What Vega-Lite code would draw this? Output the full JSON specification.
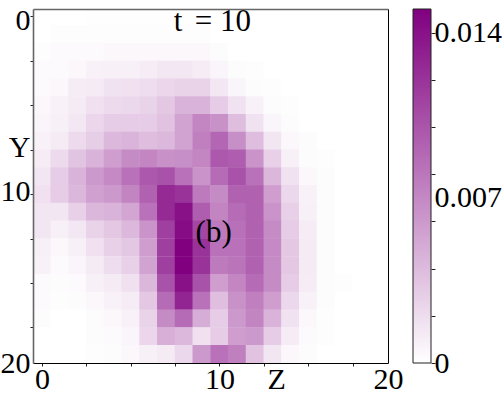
{"$schema":"https://vega.github.io/schema/vega-lite/v6.json","padding":{"left":0,"top":5,"right":0,"bottom":0},"background":"white","config":{"font":"Liberation Serif","view":{"stroke":null},"axis":{"grid":false,"title":null,"domain":false,"labelFont":"Liberation Serif","labelFontSize":30,"labelColor":"#000","tickColor":"#222","tickSize":3,"labelOverlap":false,"labelFlush":false,"labelBound":false}},"datasets":{"cells":[
{"z":0,"y":0,"v":0},{"z":1,"y":0,"v":0},{"z":2,"y":0,"v":0},{"z":3,"y":0,"v":0.00005},{"z":4,"y":0,"v":0.00005},{"z":5,"y":0,"v":0.00005},{"z":6,"y":0,"v":0.00005},{"z":7,"y":0,"v":0.00005},{"z":8,"y":0,"v":0.00005},{"z":9,"y":0,"v":0.00005},{"z":10,"y":0,"v":0.00005},{"z":11,"y":0,"v":0},{"z":12,"y":0,"v":0},{"z":13,"y":0,"v":0},{"z":14,"y":0,"v":0},{"z":15,"y":0,"v":0},{"z":16,"y":0,"v":0},{"z":17,"y":0,"v":0},{"z":18,"y":0,"v":0},{"z":19,"y":0,"v":0},
{"z":0,"y":1,"v":0},{"z":1,"y":1,"v":0.0001},{"z":2,"y":1,"v":0.0001},{"z":3,"y":1,"v":0.0001},{"z":4,"y":1,"v":0.0001},{"z":5,"y":1,"v":0.0001},{"z":6,"y":1,"v":0.0001},{"z":7,"y":1,"v":0.0001},{"z":8,"y":1,"v":0.0001},{"z":9,"y":1,"v":0.0001},{"z":10,"y":1,"v":0},{"z":11,"y":1,"v":0},{"z":12,"y":1,"v":0},{"z":13,"y":1,"v":0},{"z":14,"y":1,"v":0},{"z":15,"y":1,"v":0},{"z":16,"y":1,"v":0},{"z":17,"y":1,"v":0},{"z":18,"y":1,"v":0},{"z":19,"y":1,"v":0},
{"z":0,"y":2,"v":0.0001},{"z":1,"y":2,"v":0.0003},{"z":2,"y":2,"v":0.0003},{"z":3,"y":2,"v":0.0003},{"z":4,"y":2,"v":0.0005},{"z":5,"y":2,"v":0.0005},{"z":6,"y":2,"v":0.0005},{"z":7,"y":2,"v":0.0005},{"z":8,"y":2,"v":0.0005},{"z":9,"y":2,"v":0.0005},{"z":10,"y":2,"v":0.0002},{"z":11,"y":2,"v":0},{"z":12,"y":2,"v":0},{"z":13,"y":2,"v":0},{"z":14,"y":2,"v":0},{"z":15,"y":2,"v":0},{"z":16,"y":2,"v":0},{"z":17,"y":2,"v":0},{"z":18,"y":2,"v":0},{"z":19,"y":2,"v":0},
{"z":0,"y":3,"v":0.0003},{"z":1,"y":3,"v":0.0003},{"z":2,"y":3,"v":0.0005},{"z":3,"y":3,"v":0.0008},{"z":4,"y":3,"v":0.0009},{"z":5,"y":3,"v":0.0009},{"z":6,"y":3,"v":0.0011},{"z":7,"y":3,"v":0.0014},{"z":8,"y":3,"v":0.0014},{"z":9,"y":3,"v":0.0011},{"z":10,"y":3,"v":0.0006},{"z":11,"y":3,"v":0.0002},{"z":12,"y":3,"v":0.0001},{"z":13,"y":3,"v":0},{"z":14,"y":3,"v":0},{"z":15,"y":3,"v":0},{"z":16,"y":3,"v":0},{"z":17,"y":3,"v":0},{"z":18,"y":3,"v":0},{"z":19,"y":3,"v":0},
{"z":0,"y":4,"v":0.0003},{"z":1,"y":4,"v":0.0005},{"z":2,"y":4,"v":0.0011},{"z":3,"y":4,"v":0.0012},{"z":4,"y":4,"v":0.0017},{"z":5,"y":4,"v":0.0018},{"z":6,"y":4,"v":0.002},{"z":7,"y":4,"v":0.0024},{"z":8,"y":4,"v":0.0026},{"z":9,"y":4,"v":0.0026},{"z":10,"y":4,"v":0.0014},{"z":11,"y":4,"v":0.0006},{"z":12,"y":4,"v":0.0002},{"z":13,"y":4,"v":0.0001},{"z":14,"y":4,"v":0},{"z":15,"y":4,"v":0},{"z":16,"y":4,"v":0},{"z":17,"y":4,"v":0},{"z":18,"y":4,"v":0},{"z":19,"y":4,"v":0},
{"z":0,"y":5,"v":0.0005},{"z":1,"y":5,"v":0.0008},{"z":2,"y":5,"v":0.0012},{"z":3,"y":5,"v":0.0018},{"z":4,"y":5,"v":0.0021},{"z":5,"y":5,"v":0.0023},{"z":6,"y":5,"v":0.0026},{"z":7,"y":5,"v":0.0033},{"z":8,"y":5,"v":0.0045},{"z":9,"y":5,"v":0.0045},{"z":10,"y":5,"v":0.003},{"z":11,"y":5,"v":0.0017},{"z":12,"y":5,"v":0.0008},{"z":13,"y":5,"v":0.0002},{"z":14,"y":5,"v":0.0001},{"z":15,"y":5,"v":0},{"z":16,"y":5,"v":0},{"z":17,"y":5,"v":0},{"z":18,"y":5,"v":0},{"z":19,"y":5,"v":0},
{"z":0,"y":6,"v":0.0006},{"z":1,"y":6,"v":0.0009},{"z":2,"y":6,"v":0.0014},{"z":3,"y":6,"v":0.0024},{"z":4,"y":6,"v":0.003},{"z":5,"y":6,"v":0.003},{"z":6,"y":6,"v":0.003},{"z":7,"y":6,"v":0.0036},{"z":8,"y":6,"v":0.0054},{"z":9,"y":6,"v":0.0071},{"z":10,"y":6,"v":0.0065},{"z":11,"y":6,"v":0.0039},{"z":12,"y":6,"v":0.0017},{"z":13,"y":6,"v":0.0006},{"z":14,"y":6,"v":0.0002},{"z":15,"y":6,"v":0},{"z":16,"y":6,"v":0},{"z":17,"y":6,"v":0},{"z":18,"y":6,"v":0},{"z":19,"y":6,"v":0},
{"z":0,"y":7,"v":0.0008},{"z":1,"y":7,"v":0.0012},{"z":2,"y":7,"v":0.0021},{"z":3,"y":7,"v":0.0029},{"z":4,"y":7,"v":0.0041},{"z":5,"y":7,"v":0.0044},{"z":6,"y":7,"v":0.0039},{"z":7,"y":7,"v":0.0041},{"z":8,"y":7,"v":0.0054},{"z":9,"y":7,"v":0.0075},{"z":10,"y":7,"v":0.009},{"z":11,"y":7,"v":0.0066},{"z":12,"y":7,"v":0.0039},{"z":13,"y":7,"v":0.0015},{"z":14,"y":7,"v":0.0005},{"z":15,"y":7,"v":0.0002},{"z":16,"y":7,"v":0},{"z":17,"y":7,"v":0},{"z":18,"y":7,"v":0},{"z":19,"y":7,"v":0},
{"z":0,"y":8,"v":0.0011},{"z":1,"y":8,"v":0.0021},{"z":2,"y":8,"v":0.0035},{"z":3,"y":8,"v":0.0045},{"z":4,"y":8,"v":0.0057},{"z":5,"y":8,"v":0.0068},{"z":6,"y":8,"v":0.0071},{"z":7,"y":8,"v":0.0065},{"z":8,"y":8,"v":0.0066},{"z":9,"y":8,"v":0.0071},{"z":10,"y":8,"v":0.0098},{"z":11,"y":8,"v":0.0095},{"z":12,"y":8,"v":0.0063},{"z":13,"y":8,"v":0.0027},{"z":14,"y":8,"v":0.0009},{"z":15,"y":8,"v":0.0002},{"z":16,"y":8,"v":0.0001},{"z":17,"y":8,"v":0},{"z":18,"y":8,"v":0},{"z":19,"y":8,"v":0},
{"z":0,"y":9,"v":0.0015},{"z":1,"y":9,"v":0.003},{"z":2,"y":9,"v":0.0045},{"z":3,"y":9,"v":0.006},{"z":4,"y":9,"v":0.0069},{"z":5,"y":9,"v":0.0083},{"z":6,"y":9,"v":0.0098},{"z":7,"y":9,"v":0.0102},{"z":8,"y":9,"v":0.0083},{"z":9,"y":9,"v":0.0063},{"z":10,"y":9,"v":0.0087},{"z":11,"y":9,"v":0.0102},{"z":12,"y":9,"v":0.0083},{"z":13,"y":9,"v":0.0042},{"z":14,"y":9,"v":0.0017},{"z":15,"y":9,"v":0.0005},{"z":16,"y":9,"v":0.0002},{"z":17,"y":9,"v":0},{"z":18,"y":9,"v":0},{"z":19,"y":9,"v":0},
{"z":0,"y":10,"v":0.0018},{"z":1,"y":10,"v":0.003},{"z":2,"y":10,"v":0.0042},{"z":3,"y":10,"v":0.0056},{"z":4,"y":10,"v":0.006},{"z":5,"y":10,"v":0.0072},{"z":6,"y":10,"v":0.0093},{"z":7,"y":10,"v":0.0125},{"z":8,"y":10,"v":0.012},{"z":9,"y":10,"v":0.0078},{"z":10,"y":10,"v":0.0068},{"z":11,"y":10,"v":0.0093},{"z":12,"y":10,"v":0.0093},{"z":13,"y":10,"v":0.0057},{"z":14,"y":10,"v":0.0023},{"z":15,"y":10,"v":0.0008},{"z":16,"y":10,"v":0.0002},{"z":17,"y":10,"v":0},{"z":18,"y":10,"v":0},{"z":19,"y":10,"v":0},
{"z":0,"y":11,"v":0.0015},{"z":1,"y":11,"v":0.0015},{"z":2,"y":11,"v":0.0027},{"z":3,"y":11,"v":0.0042},{"z":4,"y":11,"v":0.0045},{"z":5,"y":11,"v":0.0053},{"z":6,"y":11,"v":0.0083},{"z":7,"y":11,"v":0.0125},{"z":8,"y":11,"v":0.014},{"z":9,"y":11,"v":0.0095},{"z":10,"y":11,"v":0.0072},{"z":11,"y":11,"v":0.0087},{"z":12,"y":11,"v":0.0093},{"z":13,"y":11,"v":0.0063},{"z":14,"y":11,"v":0.0027},{"z":15,"y":11,"v":0.0009},{"z":16,"y":11,"v":0.0002},{"z":17,"y":11,"v":0},{"z":18,"y":11,"v":0},{"z":19,"y":11,"v":0},
{"z":0,"y":12,"v":0.0015},{"z":1,"y":12,"v":0.0009},{"z":2,"y":12,"v":0.0014},{"z":3,"y":12,"v":0.0026},{"z":4,"y":12,"v":0.0033},{"z":5,"y":12,"v":0.0041},{"z":6,"y":12,"v":0.0063},{"z":7,"y":12,"v":0.0113},{"z":8,"y":12,"v":0.0143},{"z":9,"y":12,"v":0.0108},{"z":10,"y":12,"v":0.0078},{"z":11,"y":12,"v":0.0084},{"z":12,"y":12,"v":0.0093},{"z":13,"y":12,"v":0.0068},{"z":14,"y":12,"v":0.003},{"z":15,"y":12,"v":0.0011},{"z":16,"y":12,"v":0.0002},{"z":17,"y":12,"v":0},{"z":18,"y":12,"v":0},{"z":19,"y":12,"v":0},
{"z":0,"y":13,"v":0.0009},{"z":1,"y":13,"v":0.0005},{"z":2,"y":13,"v":0.0009},{"z":3,"y":13,"v":0.0018},{"z":4,"y":13,"v":0.0027},{"z":5,"y":13,"v":0.0033},{"z":6,"y":13,"v":0.0057},{"z":7,"y":13,"v":0.0113},{"z":8,"y":13,"v":0.015},{"z":9,"y":13,"v":0.012},{"z":10,"y":13,"v":0.0083},{"z":11,"y":13,"v":0.0083},{"z":12,"y":13,"v":0.0093},{"z":13,"y":13,"v":0.0069},{"z":14,"y":13,"v":0.0033},{"z":15,"y":13,"v":0.0012},{"z":16,"y":13,"v":0.0002},{"z":17,"y":13,"v":0},{"z":18,"y":13,"v":0},{"z":19,"y":13,"v":0},
{"z":0,"y":14,"v":0.0008},{"z":1,"y":14,"v":0.0003},{"z":2,"y":14,"v":0.0006},{"z":3,"y":14,"v":0.0012},{"z":4,"y":14,"v":0.002},{"z":5,"y":14,"v":0.0027},{"z":6,"y":14,"v":0.0054},{"z":7,"y":14,"v":0.0113},{"z":8,"y":14,"v":0.015},{"z":9,"y":14,"v":0.012},{"z":10,"y":14,"v":0.0078},{"z":11,"y":14,"v":0.0081},{"z":12,"y":14,"v":0.0093},{"z":13,"y":14,"v":0.0068},{"z":14,"y":14,"v":0.0033},{"z":15,"y":14,"v":0.0012},{"z":16,"y":14,"v":0.0002},{"z":17,"y":14,"v":0},{"z":18,"y":14,"v":0},{"z":19,"y":14,"v":0},
{"z":0,"y":15,"v":0.0003},{"z":1,"y":15,"v":0.0002},{"z":2,"y":15,"v":0.0003},{"z":3,"y":15,"v":0.0009},{"z":4,"y":15,"v":0.0012},{"z":5,"y":15,"v":0.0018},{"z":6,"y":15,"v":0.0042},{"z":7,"y":15,"v":0.0102},{"z":8,"y":15,"v":0.014},{"z":9,"y":15,"v":0.0102},{"z":10,"y":15,"v":0.0057},{"z":11,"y":15,"v":0.0071},{"z":12,"y":15,"v":0.0087},{"z":13,"y":15,"v":0.0068},{"z":14,"y":15,"v":0.003},{"z":15,"y":15,"v":0.0011},{"z":16,"y":15,"v":0.0002},{"z":17,"y":15,"v":0.0001},{"z":18,"y":15,"v":0},{"z":19,"y":15,"v":0},
{"z":0,"y":16,"v":0.0003},{"z":1,"y":16,"v":0.0001},{"z":2,"y":16,"v":0.0002},{"z":3,"y":16,"v":0.0005},{"z":4,"y":16,"v":0.0008},{"z":5,"y":16,"v":0.0011},{"z":6,"y":16,"v":0.0033},{"z":7,"y":16,"v":0.0087},{"z":8,"y":16,"v":0.0128},{"z":9,"y":16,"v":0.0083},{"z":10,"y":16,"v":0.0038},{"z":11,"y":16,"v":0.0065},{"z":12,"y":16,"v":0.0075},{"z":13,"y":16,"v":0.0057},{"z":14,"y":16,"v":0.0023},{"z":15,"y":16,"v":0.0008},{"z":16,"y":16,"v":0.0002},{"z":17,"y":16,"v":0},{"z":18,"y":16,"v":0},{"z":19,"y":16,"v":0},
{"z":0,"y":17,"v":0.0002},{"z":1,"y":17,"v":0},{"z":2,"y":17,"v":0},{"z":3,"y":17,"v":0.0002},{"z":4,"y":17,"v":0.0005},{"z":5,"y":17,"v":0.0008},{"z":6,"y":17,"v":0.0026},{"z":7,"y":17,"v":0.0068},{"z":8,"y":17,"v":0.0087},{"z":9,"y":17,"v":0.0048},{"z":10,"y":17,"v":0.003},{"z":11,"y":17,"v":0.006},{"z":12,"y":17,"v":0.0072},{"z":13,"y":17,"v":0.0045},{"z":14,"y":17,"v":0.0017},{"z":15,"y":17,"v":0.0005},{"z":16,"y":17,"v":0.0001},{"z":17,"y":17,"v":0},{"z":18,"y":17,"v":0},{"z":19,"y":17,"v":0},
{"z":0,"y":18,"v":0},{"z":1,"y":18,"v":0},{"z":2,"y":18,"v":0},{"z":3,"y":18,"v":0.0002},{"z":4,"y":18,"v":0.0003},{"z":5,"y":18,"v":0.0006},{"z":6,"y":18,"v":0.0024},{"z":7,"y":18,"v":0.0047},{"z":8,"y":18,"v":0.0041},{"z":9,"y":18,"v":0.0018},{"z":10,"y":18,"v":0.003},{"z":11,"y":18,"v":0.0057},{"z":12,"y":18,"v":0.006},{"z":13,"y":18,"v":0.003},{"z":14,"y":18,"v":0.0011},{"z":15,"y":18,"v":0.0003},{"z":16,"y":18,"v":0.0001},{"z":17,"y":18,"v":0},{"z":18,"y":18,"v":0},{"z":19,"y":18,"v":0},
{"z":0,"y":19,"v":0},{"z":1,"y":19,"v":0},{"z":2,"y":19,"v":0},{"z":3,"y":19,"v":0.0001},{"z":4,"y":19,"v":0.0002},{"z":5,"y":19,"v":0.0005},{"z":6,"y":19,"v":0.0009},{"z":7,"y":19,"v":0.0012},{"z":8,"y":19,"v":0.0023},{"z":9,"y":19,"v":0.006},{"z":10,"y":19,"v":0.0083},{"z":11,"y":19,"v":0.0075},{"z":12,"y":19,"v":0.0036},{"z":13,"y":19,"v":0.0015},{"z":14,"y":19,"v":0.0005},{"z":15,"y":19,"v":0.0002},{"z":16,"y":19,"v":0},{"z":17,"y":19,"v":0},{"z":18,"y":19,"v":0},{"z":19,"y":19,"v":0}
],"notes":[{"z":7.67,"y":0.3,"label":"t","style":"italic"},{"z":10.2,"y":0.3,"label":"= 10","style":"normal"},{"z":9.68,"y":12.2,"label":"(b)","style":"normal"}],"bar":[{"a":0,"b":1,"lo":0,"hi":0.015}]},
"hconcat":[{"width":355,"height":354,"layer":[
{"data":{"name":"cells"},"mark":{"type":"rect","width":18.2,"height":18.2,"clip":true},"encoding":{"x":{"field":"z","type":"quantitative","scale":{"domain":[-0.5,19.5],"nice":false,"zero":false},"axis":{"orient":"bottom","values":[0,2.5,5,7.5,10,12.5,15,17.5],"labels":false,"domain":true,"domainColor":"#000","zindex":1}},"y":{"field":"y","type":"quantitative","scale":{"domain":[19.5,-0.42],"nice":false,"zero":false},"axis":{"orient":"left","values":[0,2.5,5,7.5,10,12.5,15,17.5],"labels":false,"domain":true,"domainColor":"#666","domainWidth":1.6,"zindex":1}},"color":{"field":"v","type":"quantitative","scale":{"domain":[0,0.015],"range":["#ffffff","#800080"],"interpolate":"rgb"},"legend":null}}},
{"data":{"name":"notes"},"mark":{"type":"text","fontSize":31,"font":"Liberation Serif","color":"#000"},"encoding":{"x":{"field":"z","type":"quantitative","axis":{"orient":"bottom","values":[0,10,13.2,19.5],"ticks":false,"labelPadding":1,"labelBaseline":"top","labelExpr":"datum.value==0?'0':datum.value==10?'10':datum.value==13.2?'Z':'20'"}},"y":{"field":"y","type":"quantitative","axis":{"orient":"left","values":[0.2,7.4,9.85,19.5],"ticks":false,"labelPadding":3,"labelExpr":"datum.value==0.2?'0':datum.value==7.4?'Y':datum.value==9.85?'10':'20'"}},"text":{"field":"label"},"fontStyle":{"field":"style","type":"nominal","scale":null}}},
{"data":{"name":"notes"},"mark":{"type":"text","text":"","opacity":0},"encoding":{"x":{"field":"z","type":"quantitative","axis":{"orient":"top","values":[],"labels":false,"ticks":false,"domain":true,"domainColor":"#666","domainWidth":1.6,"zindex":1}},"y":{"field":"y","type":"quantitative","axis":{"orient":"right","values":[],"labels":false,"ticks":false,"domain":true,"domainColor":"#000","zindex":1}}}}
],"resolve":{"axis":{"x":"independent","y":"independent"}}},
{"width":18,"height":354,"data":{"name":"bar"},"encoding":{"x":{"field":"a","type":"quantitative","scale":{"domain":[0,1],"nice":false},"axis":null}},"layer":[
{"mark":{"type":"rect","stroke":"#222","strokeWidth":1,"color":{"gradient":"linear","x1":0,"y1":1,"x2":0,"y2":0,"stops":[{"offset":0,"color":"#ffffff"},{"offset":1,"color":"#800080"}]}},"encoding":{"x2":{"field":"b"},"y":{"field":"lo","type":"quantitative","scale":{"domain":[0,0.015],"nice":false},"axis":{"orient":"right","values":[0,0.002,0.004,0.006,0.008,0.01,0.012,0.014],"labels":false,"tickSize":4}},"y2":{"field":"hi"}}},
{"mark":{"type":"text","text":"","opacity":0},"encoding":{"y":{"field":"lo","type":"quantitative","axis":{"orient":"right","values":[0,0.007,0.014],"ticks":false,"labelPadding":3,"format":".3~f"}}}}
],"resolve":{"axis":{"y":"independent"}}}],"spacing":9}
